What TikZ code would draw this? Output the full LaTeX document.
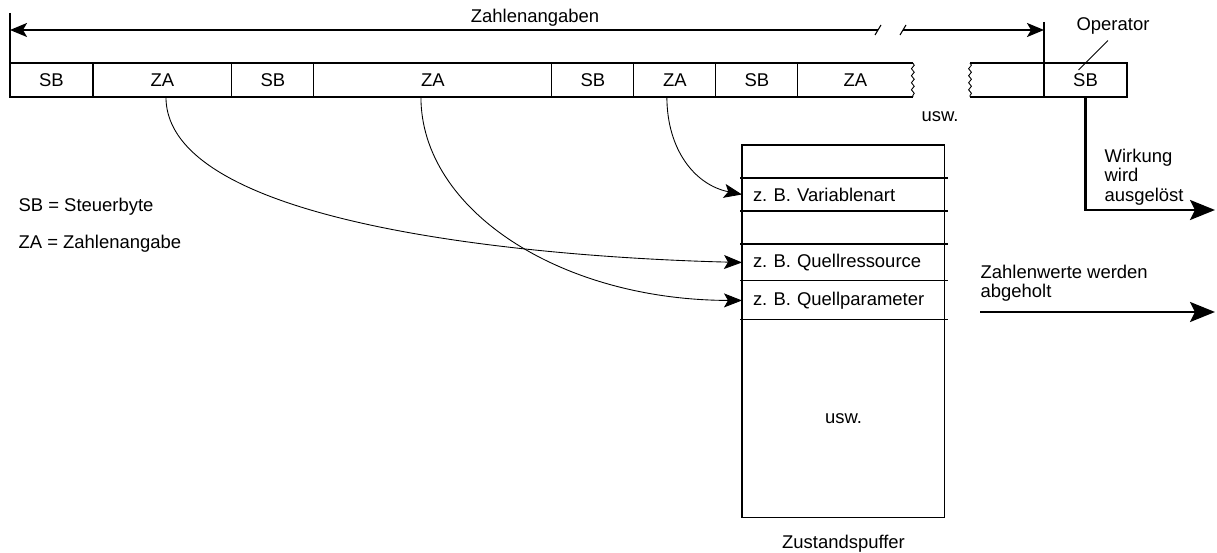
\documentclass[tikz,border=0pt]{standalone}
\usepackage{fontspec}
\setmainfont{Liberation Sans}
\usepackage{tikz}
\usetikzlibrary{positioning, arrows.meta, calc, decorations.pathmorphing}
\frenchspacing
\tikzset{
  cell/.style={
    draw, line width=0.6pt, minimum width=#1, minimum height=0.68cm,
    inner sep=0pt, outer sep=0pt
  },
  cell/.default=1.64cm,
  row/.style={
    draw, line width=0.6pt, minimum width=4.06cm, minimum height=#1,
    text width=3.62cm, inner xsep=0.22cm, inner ysep=0pt, outer sep=0pt,
    align=left
  },
  heavy/.style={line width=0.9pt},
  wavy/.style={line width=0.5pt, decorate, decoration={snake, amplitude=0.8pt, segment length=4pt}},
  dim/.style={line width=1.1pt, -{Stealth[length=0.34cm, width=0.28cm, inset=0.08cm]}},
  link/.style={line width=0.5pt, -{Stealth[length=0.36cm, width=0.28cm, inset=0.08cm]}},
  flow/.style={line width=1.6pt, -{Stealth[length=0.5cm, width=0.4cm, inset=0.1cm]}},
  txt/.style={inner sep=3pt, align=left}
}

\begin{document}
\begin{tikzpicture}[x=0.02cm, y=-0.02cm, font=\fontsize{10.5}{11}\selectfont]
\useasboundingbox (0,0) rectangle (1217,553);

%% byte strip
\node[cell=1.66cm, anchor=north west] (sb1) at (10,63) {SB};
\node[cell=2.78cm, right=0pt of sb1] (za1) {ZA};
\node[cell, right=0pt of za1] (sb2) {SB};
\node[cell=4.76cm, right=0pt of sb2] (za2) {ZA};
\node[cell, right=0pt of za2] (sb3) {SB};
\node[cell, right=0pt of sb3] (za3) {ZA};
\node[cell, right=0pt of za3] (sb4) {SB};
\node[cell=2.30cm, draw=none, right=0pt of sb4] (za4) {ZA};
\draw[heavy] (za4.north west) -- (za4.north east);
\draw[heavy] (za4.south west) -- (za4.south east);
\draw[wavy] (za4.north east) -- (za4.south east);

%% strip end with operator
\node[cell=1.66cm, anchor=north west] (sbop) at (1044,63) {SB};
\node[cell=1.48cm, draw=none, left=0pt of sbop] (frag) {};
\draw[heavy] (frag.north east) -- (frag.north west);
\draw[heavy] (frag.south east) -- (frag.south west);
\draw[wavy] (frag.north west) -- (frag.south west);
\node (usw) at (940,117) {usw.};
\node (oplab) at (1113,26) {Operator};
\draw[line width=0.5pt] ([shift={(-5,0)}]oplab.south) -- ([shift={(-7,-10)}]sbop.center);

%% dimension line
\coordinate (tickL) at (10,13);
\coordinate (tickR) at (1044,22);
\coordinate (brkL) at (878,30);
\coordinate (brkR) at (903,30);
\draw[line width=1.1pt] (tickL) -- (sb1.north west);
\draw[line width=1.1pt] (tickR) -- (sbop.north west);
\draw[dim] (brkL) -- (tickL |- brkL);
\draw[dim] (brkR) -- (tickR |- brkR);
\draw[line width=0.6pt] ([shift={(-3,5)}]brkL) -- ([shift={(3,-5)}]brkL);
\draw[line width=0.6pt] ([shift={(-3,5)}]brkR) -- ([shift={(3,-5)}]brkR);
\node (zahl) at (535,18) {Zahlenangaben};

%% legend
\node[txt, anchor=west] (legsb) at (13,207) {SB = Steuerbyte};
\node[txt, anchor=west] (legza) at (13,244) {ZA = Zahlenangabe};

%% state buffer
\node[row=0.66cm, anchor=north west] (r1) at (742,145) {};
\node[row=0.66cm, below=0pt of r1] (var) {z. B. Variablenart};
\node[row=0.66cm, below=0pt of var] (r3) {};
\node[row=0.74cm, below=0pt of r3] (qres) {z. B. Quellressource};
\node[row=0.78cm, below=0pt of qres] (qpar) {z. B. Quellparameter};
\node[row=3.96cm, below=0pt of qpar, align=center] (rest) {usw.};
\foreach \r in {var, r3, qres, qpar, rest}
  \draw[line width=0.6pt] ([xshift=-0.04cm]\r.north west) -- ([xshift=0.06cm]\r.north east);
\node[below=0.22cm of rest] (puffer) {Zustandspuffer};

%% links ZA -> buffer
\draw[link] ([xshift=0.07cm]za1.south) .. controls (166,230) and (560,258) .. (qres.west);
\draw[link] ([xshift=-0.24cm]za2.south) .. controls (421,210) and (560,300) .. (qpar.west);
\draw[link] ([xshift=-0.16cm]za3.south) .. controls (667,150) and (695,185) .. (var.west);

%% outputs
\coordinate (wirkEnd) at (1215,210);
\draw[flow] (sbop.south) |- (wirkEnd);
\node[txt, anchor=west] (wirk) at (1099,177) {Wirkung\\wird\\ausgelöst};
\coordinate (holStart) at (980,312);
\coordinate (holEnd) at (1215,312);
\draw[flow] (holStart) -- (holEnd);
\node[txt, anchor=west] (hol) at (975,283) {Zahlenwerte werden\\abgeholt};

\end{tikzpicture}
\end{document}
